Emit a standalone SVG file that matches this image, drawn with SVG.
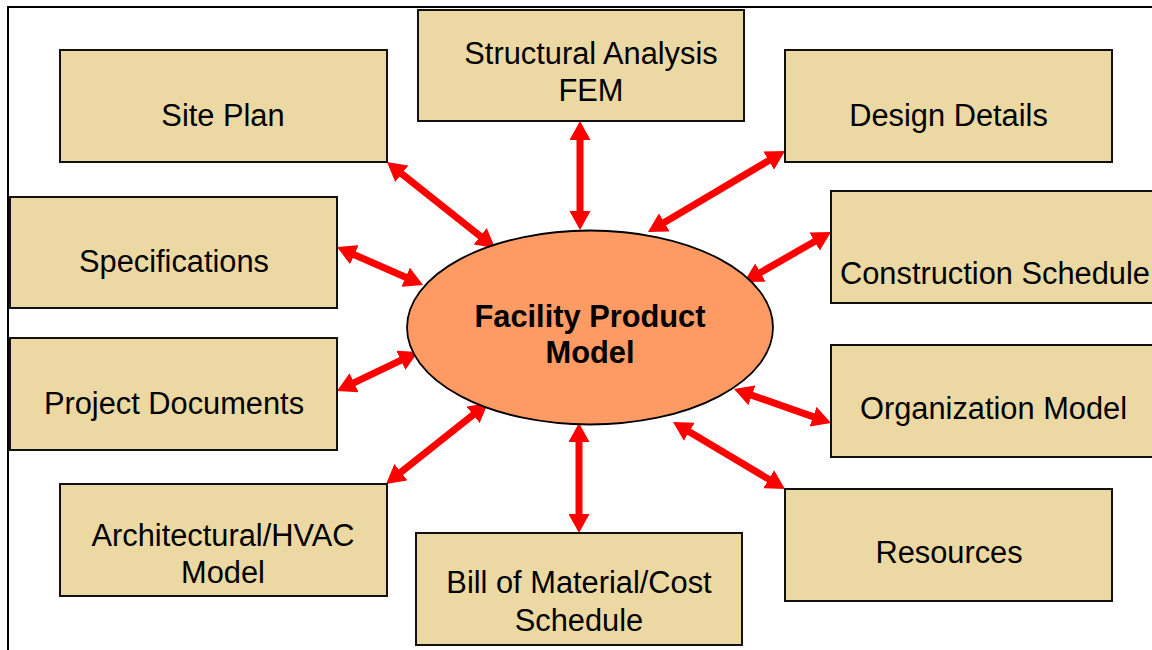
<svg xmlns="http://www.w3.org/2000/svg" width="1152" height="650" viewBox="0 0 1152 650">
  <style>
    .box { fill: #ECD8A2; stroke: #111; stroke-width: 2; }
    .lbl { font-family: "Liberation Sans", Arial, sans-serif; font-size: 30.8px; fill: #000; text-anchor: middle; }
    .start { text-anchor: start; }
    .hub { fill: #FE9A64; stroke: #000; stroke-width: 1.8; }
    .hubtxt { font-family: "Liberation Sans", Arial, sans-serif; font-size: 30.8px; font-weight: bold; fill: #000; text-anchor: middle; }
    .link { stroke: #FF0000; stroke-width: 7; fill: none; marker-start: url(#head); marker-end: url(#head); }
  </style>
  <defs>
    <marker id="head" markerUnits="userSpaceOnUse" markerWidth="19" markerHeight="21" viewBox="0 0 19 21" refX="5" refY="10.5" orient="auto-start-reverse">
      <path d="M0,0 L19,10.5 L0,21 z" fill="#FF0000"/>
    </marker>
  </defs>

  <rect width="1152" height="650" fill="#fff"/>
  <!-- outer frame -->
  <rect x="8" y="7" width="1200" height="700" fill="none" stroke="#000" stroke-width="2"/>

  <!-- bidirectional links to the central model -->
  <g id="connectors">
    <line class="link" x1="397.9" y1="170.7" x2="484.1" y2="239.3"/>
    <line class="link" x1="349.8" y1="252.7" x2="410.2" y2="279.3"/>
    <line class="link" x1="580" y1="135" x2="580" y2="216"/>
    <line class="link" x1="773" y1="158.1" x2="660" y2="224.9"/>
    <line class="link" x1="818.9" y1="239" x2="756.1" y2="275"/>
    <line class="link" x1="349.6" y1="384.9" x2="405.4" y2="358.1"/>
    <line class="link" x1="397" y1="475.3" x2="477" y2="411.7"/>
    <line class="link" x1="579" y1="437" x2="579" y2="519"/>
    <line class="link" x1="747.2" y1="393.6" x2="817.8" y2="418.4"/>
    <line class="link" x1="685" y1="429.2" x2="773" y2="481.8"/>
  </g>

  <g id="site-plan">
    <rect class="box" x="60" y="50" width="327" height="112"/>
    <text class="lbl" x="223" y="126">Site Plan</text>
  </g>
  <g id="structural-analysis">
    <rect class="box" x="418" y="10" width="326" height="111"/>
    <text class="lbl" x="591" y="64">Structural Analysis</text>
    <text class="lbl" x="591" y="101">FEM</text>
  </g>
  <g id="design-details">
    <rect class="box" x="785" y="50" width="327" height="112"/>
    <text class="lbl" x="948.5" y="126">Design Details</text>
  </g>
  <g id="construction-schedule">
    <rect class="box" x="831" y="191" width="340" height="112"/>
    <text class="lbl start" x="840" y="284">Construction Schedule</text>
  </g>
  <g id="specifications">
    <rect class="box" x="10" y="197" width="327" height="111"/>
    <text class="lbl" x="174" y="272">Specifications</text>
  </g>
  <g id="project-documents">
    <rect class="box" x="10" y="338" width="327" height="112"/>
    <text class="lbl" x="174" y="414">Project Documents</text>
  </g>
  <g id="organization-model">
    <rect class="box" x="831" y="345" width="340" height="112"/>
    <text class="lbl start" x="860" y="419">Organization Model</text>
  </g>
  <g id="architectural-hvac">
    <rect class="box" x="60" y="484" width="327" height="112"/>
    <text class="lbl" x="223" y="546">Architectural/HVAC</text>
    <text class="lbl" x="223" y="583">Model</text>
  </g>
  <g id="bill-of-material">
    <rect class="box" x="416" y="533" width="326" height="112"/>
    <text class="lbl" x="579" y="593">Bill of Material/Cost</text>
    <text class="lbl" x="579" y="631">Schedule</text>
  </g>
  <g id="resources">
    <rect class="box" x="785" y="489" width="327" height="112"/>
    <text class="lbl" x="949" y="563">Resources</text>
  </g>

  <g id="facility-product-model">
    <ellipse class="hub" cx="590" cy="327.5" rx="183" ry="97"/>
    <text class="hubtxt" x="590" y="327">Facility Product</text>
    <text class="hubtxt" x="590" y="363">Model</text>
  </g>
</svg>
